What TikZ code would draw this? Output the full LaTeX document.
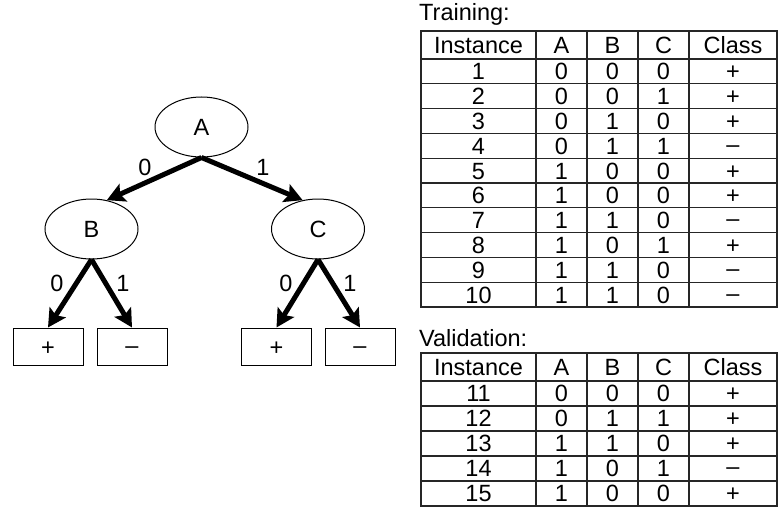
\documentclass[tikz,border=0pt]{standalone}
\usepackage{fontspec}
\setmainfont{Liberation Sans}
\usetikzlibrary{shapes.geometric,arrows.meta}
\newcommand\mydash{\raisebox{2pt}{–}}
\begin{document}
\begin{tikzpicture}[x=1pt,y=-1pt,
  every node/.style={font=\fontsize{23.5}{28}\selectfont, text=black},
  dnode/.style={ellipse, draw, line width=1pt, minimum width=93pt, minimum height=60pt, inner sep=0pt},
  leaf/.style={rectangle, draw, line width=1pt, minimum width=70pt, minimum height=37pt, inner sep=0pt, text height=17pt, text depth=0pt},
  branch/.style={line width=5pt, -{Stealth[length=18pt,width=19pt,inset=3.5pt]}},
  elabel/.style={inner sep=0pt},
  cell/.style={anchor=base, inner sep=0pt},
  grid/.style={line width=1.2pt, draw=black!85}
]
\useasboundingbox (0,0) rectangle (778,508);

% ---------- tree ----------
\node[dnode] (A) at (201.5,127) {A};
\node[dnode] (B) at (91.5,229) {B};
\node[dnode] (C) at (318,229) {C};
\node[leaf] (lp1) at (48,346.5) {+};
\node[leaf] (lm1) at (132,346.5) {\mydash};
\node[leaf] (lp2) at (276.5,346.5) {+};
\node[leaf] (lm2) at (360,346.5) {\mydash};

\draw[branch] (A.south) -- (B.62);
\draw[branch] (A.south) -- (C.118);
\draw[branch] (B.south) -- (lp1.north);
\draw[branch] (B.south) -- (lm1.north);
\draw[branch] (C.south) -- (lp2.north);
\draw[branch] (C.south) -- (lm2.north);

\node[elabel] (eAB) at (145,167) {0};
\node[elabel] (eAC) at (263,167) {1};
\node[elabel] (eB0) at (57,283) {0};
\node[elabel] (eB1) at (123,283) {1};
\node[elabel] (eC0) at (286,283) {0};
\node[elabel] (eC1) at (350,283) {1};

% ---------- training table ----------
\node[anchor=base west, inner sep=0pt] (trainlbl) at (419,21) {Training:};
\draw[grid] (421,31) rectangle (777,307);
\foreach \xx in {536,587,638,689} \draw[grid] (\xx,31) -- (\xx,307);
\foreach \i in {0,...,9} \draw[grid] (421,{59+24.8*\i}) -- (777,{59+24.8*\i});
\node[cell] (th1) at (478.5,53.4) {Instance};
\node[cell] (th2) at (561.5,53.4) {A};
\node[cell] (th3) at (612.5,53.4) {B};
\node[cell] (th4) at (663.5,53.4) {C};
\node[cell] (th5) at (733,53.4) {Class};
\foreach \n/\a/\b/\c/\k [count=\i] in {1/0/0/0/+, 2/0/0/1/+, 3/0/1/0/+, 4/0/1/1/\mydash, 5/1/0/0/+, 6/1/0/0/+, 7/1/1/0/\mydash, 8/1/0/1/+, 9/1/1/0/\mydash, 10/1/1/0/\mydash} {
  \pgfmathsetmacro\yb{59+24.8*(\i-1)+12.4+8.4}
  \node[cell] (tr\i n) at (478.5,\yb) {\n};
  \node[cell] (tr\i a) at (561.5,\yb) {\a};
  \node[cell] (tr\i b) at (612.5,\yb) {\b};
  \node[cell] (tr\i c) at (663.5,\yb) {\c};
  \node[cell] (tr\i k) at (733,\yb) {\k};
}

% ---------- validation table ----------
\node[anchor=base west, inner sep=0pt] (vallbl) at (419,346) {Validation:};
\draw[grid] (421,353) rectangle (777,506);
\foreach \xx in {536,587,638,689} \draw[grid] (\xx,353) -- (\xx,506);
\foreach \i in {0,...,4} \draw[grid] (421,{381+25*\i}) -- (777,{381+25*\i});
\node[cell] (vh1) at (478.5,375.4) {Instance};
\node[cell] (vh2) at (561.5,375.4) {A};
\node[cell] (vh3) at (612.5,375.4) {B};
\node[cell] (vh4) at (663.5,375.4) {C};
\node[cell] (vh5) at (733,375.4) {Class};
\foreach \n/\a/\b/\c/\k [count=\i] in {11/0/0/0/+, 12/0/1/1/+, 13/1/1/0/+, 14/1/0/1/\mydash, 15/1/0/0/+} {
  \pgfmathsetmacro\yb{381+25*(\i-1)+12.5+8.4}
  \node[cell] (va\i n) at (478.5,\yb) {\n};
  \node[cell] (va\i a) at (561.5,\yb) {\a};
  \node[cell] (va\i b) at (612.5,\yb) {\b};
  \node[cell] (va\i c) at (663.5,\yb) {\c};
  \node[cell] (va\i k) at (733,\yb) {\k};
}
\end{tikzpicture}
\end{document}
